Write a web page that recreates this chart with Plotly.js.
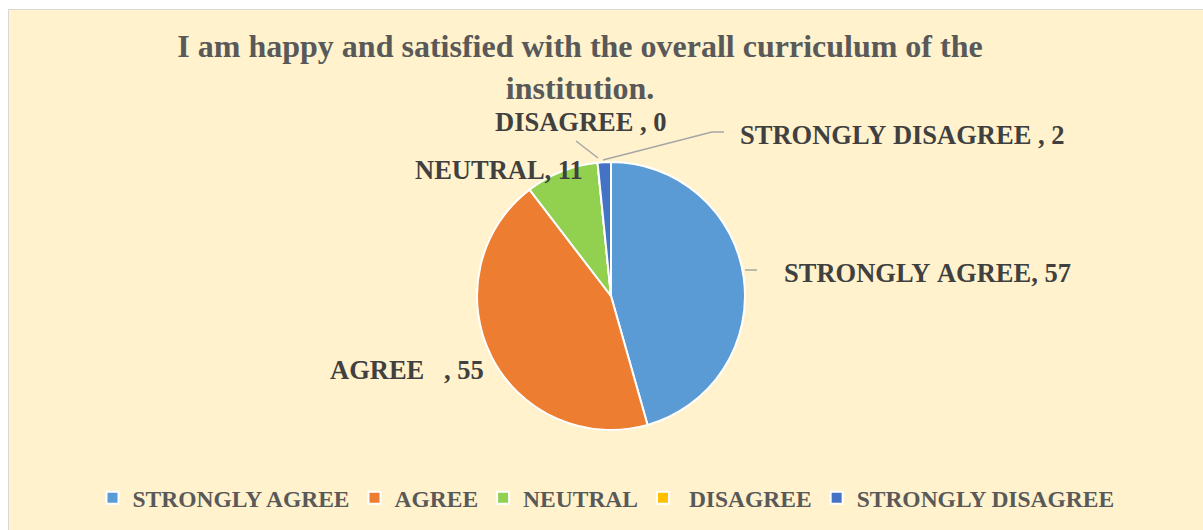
<!DOCTYPE html>
<html><head><meta charset="utf-8">
<script src="https://cdn.plot.ly/plotly-3.0.1.min.js"></script>
<style>
html,body{margin:0;padding:0;background:#fff;width:1203px;height:530px;overflow:hidden;}
#bg{position:absolute;left:8px;top:9px;width:1195px;height:521px;background:#FFF2CC;border-left:1px solid #d9d9d9;border-top:1px solid #d9d9d9;box-sizing:border-box;}
#chart{position:absolute;left:0;top:0;width:1203px;height:530px;}
</style></head>
<body><div id="bg"></div><div id="chart"></div>
<script>
const categories = ["STRONGLY AGREE", "AGREE", "NEUTRAL", " DISAGREE", "STRONGLY DISAGREE"];
const values = [57, 55, 11, 0, 2];
const dataLabels = ["STRONGLY AGREE, 57", "AGREE   , 55", "NEUTRAL, 11", "DISAGREE , 0", "STRONGLY DISAGREE , 2"];
const colors = ["#5B9BD5", "#ED7D31", "#92D050", "#FFC000", "#4472C4"];

const W = 1203, H = 530;
const px = x => x / W, py = y => 1 - y / H;

const labelPos = [[782, 273], [328, 370], [413, 170], [493, 122], [738, 135]];
const annFont = {family: "Liberation Serif, Times New Roman, serif", size: 26.5, color: "#404040", weight: "bold"};
const annotations = dataLabels.map((t, i) => ({
  text: t.replace(/ /g, "&nbsp;"), x: px(labelPos[i][0]), y: py(labelPos[i][1]), xref: "paper", yref: "paper",
  xanchor: "left", yanchor: "middle", showarrow: false, font: annFont
}));

const lineStyle = {color: "#A6A6A6", width: 1.5};
const segs = [
  [[745, 270], [757, 270]],
  [[603, 160], [712, 132]], [[712, 132], [724, 132]],
  [[598, 158], [576, 141]]
];
const shapes = segs.map(s => ({type: "line", xref: "paper", yref: "paper",
  x0: px(s[0][0]), y0: py(s[0][1]), x1: px(s[1][0]), y1: py(s[1][1]), line: lineStyle}));

const cx = 611, cy = 296, r = 134;
const trace = {
  type: "pie", labels: categories, values: values, sort: false, direction: "clockwise", rotation: 0,
  marker: {colors: colors, line: {color: "#ffffff", width: 2}},
  textinfo: "none", hoverinfo: "label+value",
  domain: {x: [px(cx - 250), px(cx + 250)], y: [py(cy + r), py(cy - r)]}
};

const layout = {
  width: W, height: H, margin: {l: 0, r: 0, t: 0, b: 0},
  paper_bgcolor: "rgba(0,0,0,0)", plot_bgcolor: "rgba(0,0,0,0)",
  title: {text: "I am happy and satisfied with the overall curriculum of the<br>institution.",
    x: px(580), xanchor: "center", xref: "paper", y: 1 - 57 / H, yanchor: "middle", yref: "container",
    font: {family: "Liberation Serif, Times New Roman, serif", size: 32, color: "#595959", weight: "bold"}},
  showlegend: true,
  legend: {orientation: "h", x: px(606), xanchor: "center", y: py(498), yanchor: "middle",
    font: {family: "Liberation Serif, Times New Roman, serif", size: 23.5, color: "#595959", weight: "bold"},
    bgcolor: "rgba(0,0,0,0)", itemwidth: 30, tracegroupgap: 0},
  annotations: annotations, shapes: shapes
};
Plotly.newPlot("chart", [trace], layout, {displayModeBar: false, staticPlot: true});
</script></body></html>
